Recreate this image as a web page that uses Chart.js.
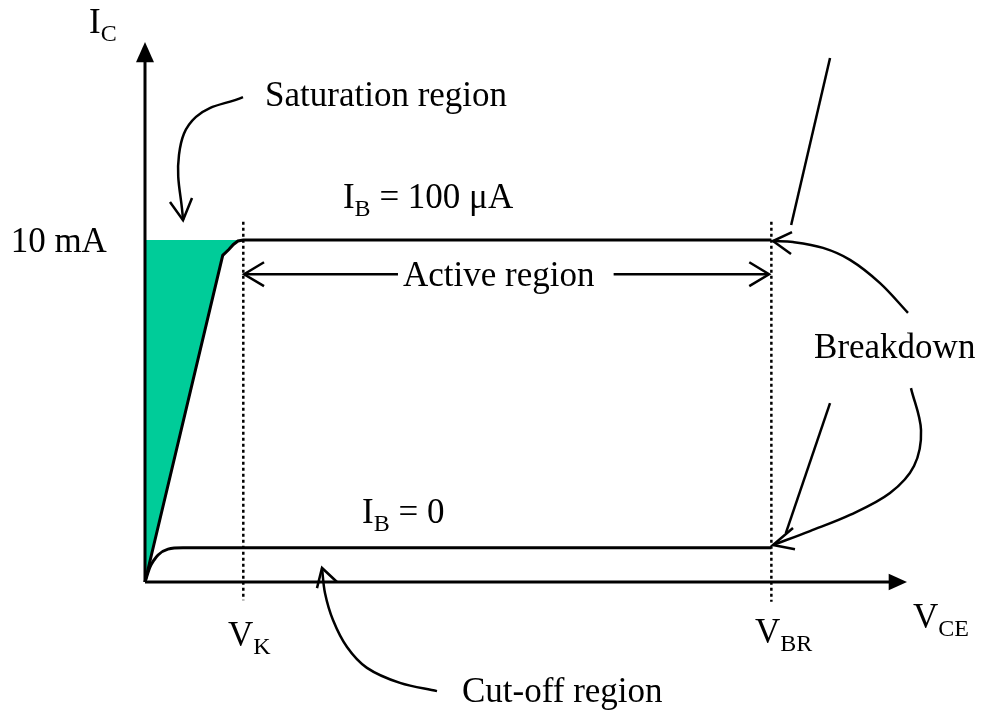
<!DOCTYPE html>
<html><head><meta charset="utf-8">
<script src="https://cdn.jsdelivr.net/npm/chart.js@4.4.0/dist/chart.umd.min.js"></script>
<style>html,body{margin:0;padding:0;background:#fff;}canvas{display:block;}</style>
</head><body>
<canvas id="c" width="982" height="711"></canvas>
<script>
// ---- Data: V_CE (arbitrary volts) vs I_C (mA) ----
const ib100V = [0, 10.2, 11.0, 11.6, 12.2, 12.9, 82.2];
const ib100I = [0, 9.55, 9.72, 9.87, 9.97, 10, 10];
const ib0V   = [0, 0.66, 1.18, 1.71, 3.02, 4.99, 82.2];
const ib0I   = [0, 0.44, 0.64, 0.79, 0.96, 1.0, 1.0];
const breakdown100V = [84.8, 89.9];
const breakdown100I = [10.44, 15.32];
const breakdown0V = [84.1, 89.9];
const breakdown0I = [1.43, 5.23];
const satV = [0, 10.2, 11.0, 11.6, 12.2, 12.9];
const satI = [0, 9.55, 9.72, 9.87, 9.97, 10];
const kneeVoltage = 12.9;
const breakdownVoltage = 82.2;
const yTickValues = [10];
const yTickLabels = ['10 mA'];
const seriesLabels = ['I_B = 100 μA', 'I_B = 0'];

// ---- Annotation geometry (data units) ----
const satArrowV = [12.86, 6.69, 4.46, 4.99];
const satArrowI = [14.18, 13.60, 12.49, 10.58];
const satHeadV = [3.28, 4.99, 6.17];
const satHeadI = [11.11, 10.58, 11.23];
const bdUpV = [100.13, 96.46, 92.52, 88.98, 85.04, 82.41];
const bdUpI = [7.87, 8.74, 9.42, 9.77, 9.94, 9.97];
const bdUpHeadV = [84.91, 82.41, 84.78];
const bdUpHeadI = [10.23, 9.97, 9.59];
const bdLoV = [100.52, 101.84, 100.92, 97.77, 92.52, 87.27, 82.41];
const bdLoI = [5.67, 4.44, 3.39, 2.60, 1.96, 1.49, 1.08];
const bdLoHeadV = [85.3, 82.41, 85.04];
const bdLoHeadI = [0.96, 1.08, 1.58];
const cutArrowV = [38.32, 33.46, 29.13, 26.51, 24.67, 23.62, 23.23];
const cutArrowI = [-3.19, -2.95, -2.51, -1.90, -1.11, -0.32, 0.41];
const cutHeadV = [22.57, 23.23, 25.2];
const cutHeadI = [-0.18, 0.41, 0.0];
const activeY = 9.0;

const xy = (xs, ys) => xs.map((v, i) => ({x: v, y: ys[i]}));
const ln = (data, o) => Object.assign({data, showLine: true, pointRadius: 0, borderColor: '#000',
  borderWidth: 3, tension: 0, fill: false, clip: false}, o || {});

const datasets = [
  ln(xy(ib100V, ib100I), {label: seriesLabels[0]}),
  ln(xy(ib0V, ib0I), {label: seriesLabels[1], cubicInterpolationMode: 'monotone'}),
  ln(xy(breakdown100V, breakdown100I), {borderWidth: 2.5}),
  ln(xy(breakdown0V, breakdown0I), {borderWidth: 2.5}),
  // axes
  ln([{x:0,y:0},{x:0,y:15.3}], {borderWidth: 3}),
  ln([{x:0,y:0},{x:97.8,y:0}], {borderWidth: 3}),
  // dotted markers
  ln([{x:kneeVoltage,y:10.53},{x:kneeVoltage,y:-0.53}], {borderWidth: 2.5, borderDash:[3,3]}),
  ln([{x:breakdownVoltage,y:10.53},{x:breakdownVoltage,y:-0.58}], {borderWidth: 2.5, borderDash:[3,3]}),
  // active region arrows
  ln([{x:13.0,y:activeY},{x:33.2,y:activeY}], {borderWidth: 2.5}),
  ln([{x:15.62,y:activeY+0.35},{x:13.0,y:activeY},{x:15.62,y:activeY-0.35}], {borderWidth: 2.5}),
  ln([{x:61.5,y:activeY},{x:81.9,y:activeY}], {borderWidth: 2.5}),
  ln([{x:79.3,y:activeY+0.35},{x:81.9,y:activeY},{x:79.3,y:activeY-0.35}], {borderWidth: 2.5}),
  // curved annotation arrows
  ln(xy(satArrowV, satArrowI), {borderWidth: 2.5, tension: 0.4}),
  ln(xy(satHeadV, satHeadI), {borderWidth: 2.5}),
  ln(xy(bdUpV, bdUpI), {borderWidth: 2.5, tension: 0.35}),
  ln(xy(bdUpHeadV, bdUpHeadI), {borderWidth: 2.5}),
  ln(xy(bdLoV, bdLoI), {borderWidth: 2.5, tension: 0.35}),
  ln(xy(bdLoHeadV, bdLoHeadI), {borderWidth: 2.5}),
  ln(xy(cutArrowV, cutArrowI), {borderWidth: 2.5, tension: 0.35}),
  ln(xy(cutHeadV, cutHeadI), {borderWidth: 2.5}),
  // saturation region fill
  ln(xy(satV, satI), {borderWidth: 0, borderColor: 'rgba(0,0,0,0)', fill: {value: 10}, backgroundColor: '#00CC99'})
];

const triangles = [
  [[0, 15.79], [-1.18, 15.2], [1.18, 15.2]],
  [[100, 0], [97.6, 0.24], [97.6, -0.24]]
];

const labels = [
  {main:'I', sub:'C', x:-7.35, y:16.05},
  {main:'Saturation region', x:15.75, y:13.92},
  {main:'I', sub:'B', rest:' = 100 μA', x:25.98, y:10.94},
  {main:yTickLabels[0], x:-5.0, y:yTickValues[0], dy:12, align:'right'},
  {main:'Active region', x:33.86, y:8.65},
  {main:'Breakdown', x:87.8, y:6.55},
  {main:'I', sub:'B', rest:' = 0', x:28.48, y:1.73},
  {main:'V', sub:'K', x:10.89, y:-1.87},
  {main:'V', sub:'BR', x:80.05, y:-1.78},
  {main:'V', sub:'CE', x:100.79, y:-1.35},
  {main:'Cut-off region', x:41.6, y:-3.51}
];

const F = '35px "Liberation Serif", "Times New Roman", serif';
const S = '24px "Liberation Serif", "Times New Roman", serif';

const decor = {
  id: 'decor',
  afterDatasetsDraw(chart) {
    const {ctx, scales: {x, y}} = chart;
    ctx.save();
    ctx.fillStyle = '#000';
    triangles.forEach(t => {
      ctx.beginPath();
      t.forEach((p, i) => {
        const X = x.getPixelForValue(p[0]), Y = y.getPixelForValue(p[1]);
        i ? ctx.lineTo(X, Y) : ctx.moveTo(X, Y);
      });
      ctx.closePath(); ctx.fill();
    });
    ctx.textBaseline = 'alphabetic';
    labels.forEach(l => {
      let X = x.getPixelForValue(l.x), Y = y.getPixelForValue(l.y) + (l.dy || 0);
      ctx.font = F; const w1 = ctx.measureText(l.main).width;
      let w2 = 0, w3 = 0;
      if (l.sub) { ctx.font = S; w2 = ctx.measureText(l.sub).width; }
      if (l.rest) { ctx.font = F; w3 = ctx.measureText(l.rest).width; }
      if (l.align === 'right') X -= (w1 + w2 + w3);
      ctx.textAlign = 'left';
      ctx.font = F; ctx.fillText(l.main, X, Y);
      if (l.sub) { ctx.font = S; ctx.fillText(l.sub, X + w1, Y + 8); }
      if (l.rest) { ctx.font = F; ctx.fillText(l.rest, X + w1 + w2, Y); }
    });
    ctx.restore();
  }
};

new Chart(document.getElementById('c'), {
  type: 'scatter',
  data: {datasets},
  options: {
    responsive: false, animation: false, devicePixelRatio: 1, events: [],
    layout: {padding: {left: 145, right: 75, top: 582 - 15.8 * 34.2, bottom: 129}},
    scales: {
      x: {type: 'linear', min: 0, max: 100, display: false},
      y: {type: 'linear', min: 0, max: 15.8, display: false}
    },
    plugins: {legend: {display: false}, tooltip: {enabled: false}}
  },
  plugins: [decor]
});
</script>
</body></html>
